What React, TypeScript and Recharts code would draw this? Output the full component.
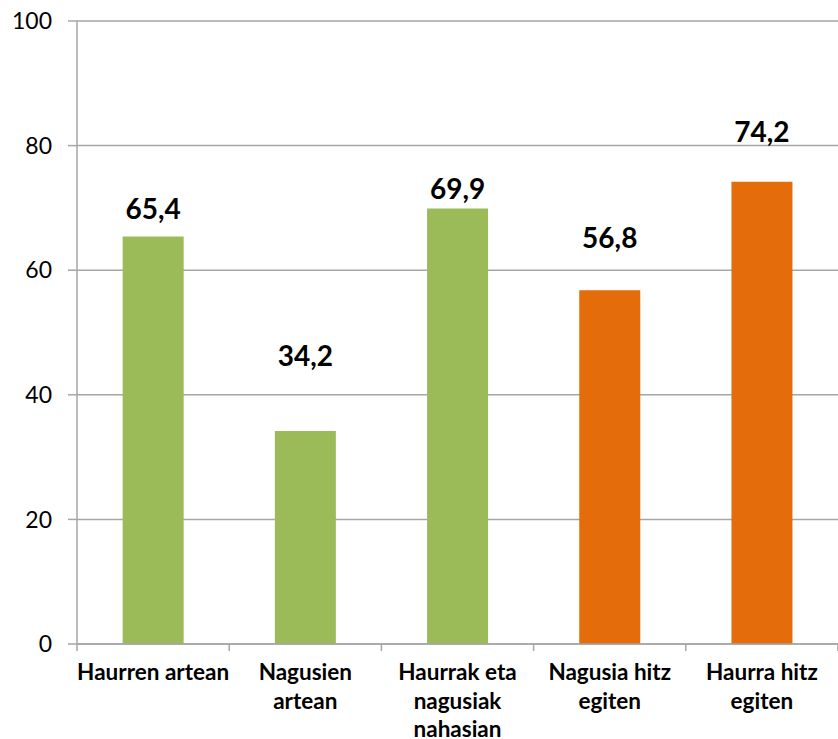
import { BarChart, Bar, XAxis, YAxis, CartesianGrid, Cell, LabelList } from 'recharts';

const categories = [
  'Haurren artean',
  'Nagusien artean',
  'Haurrak eta nagusiak nahasian',
  'Nagusia hitz egiten',
  'Haurra hitz egiten',
];
const tickLines = [
  ['Haurren artean'],
  ['Nagusien', 'artean'],
  ['Haurrak eta', 'nagusiak', 'nahasian'],
  ['Nagusia hitz', 'egiten'],
  ['Haurra hitz', 'egiten'],
];
const values = [65.4, 34.2, 69.9, 56.8, 74.2];
const groups = ['green', 'green', 'green', 'orange', 'orange'];
const yTicks = [0, 20, 40, 60, 80, 100];

const colors: Record<string, string> = { green: '#9bbb59', orange: '#e46c0a' };
// how far each value label sits above its bar, px
const labelLift = [18, 65, 10, 42, 40];

const font = 'Lato, "Open Sans", sans-serif';
const gray = '#a6a6a6';

const data = categories.map((name, i) => ({ name, value: values[i], group: groups[i] }));

// label lines plus the small marks between categories (Excel style)
function CategoryTick({ x, y, index, payload }: any) {
  const lines = tickLines[index] ?? [];
  const half = payload?.offset ?? 0;
  const last = index === tickLines.length - 1;
  return (
    <g>
      <line x1={x - half} y1={y} x2={x - half} y2={y + 7} stroke={gray} strokeWidth={1.5} />
      {last && <line x1={x + half} y1={y} x2={x + half} y2={y + 7} stroke={gray} strokeWidth={1.5} />}
      <text x={x} y={y} textAnchor="middle" fontFamily={font} fontWeight={700} fontSize={22.5} fill="#000">
        {lines.map((line, i) => (
          <tspan key={i} x={x} dy={i === 0 ? 36 : 28.5}>
            {line}
          </tspan>
        ))}
      </text>
    </g>
  );
}

function ValueLabel({ x, y, width, value, index }: any) {
  return (
    <text
      x={x + width / 2}
      y={y - labelLift[index]}
      textAnchor="middle"
      fontFamily={font}
      fontWeight={700}
      fontSize={28}
      fill="#000"
    >
      {String(value).replace('.', ',')}
    </text>
  );
}

export default function App() {
  return (
    <div style={{ position: 'absolute', left: 0, top: 0, background: '#fff' }}>
      <BarChart
        width={838}
        height={739}
        data={data}
        margin={{ top: 21, right: 0, left: 0, bottom: 0 }}
        barCategoryGap="30%"
      >
        <CartesianGrid vertical={false} stroke={gray} strokeWidth={1.5} />
        <XAxis
          dataKey="name"
          interval={0}
          height={95}
          tickSize={0}
          tickMargin={0}
          axisLine={{ stroke: gray, strokeWidth: 1.5 }}
          tickLine={false}
          tick={<CategoryTick />}
        />
        <YAxis
          width={77}
          domain={[0, 100]}
          ticks={yTicks}
          tickSize={9}
          tickMargin={16}
          axisLine={{ stroke: gray, strokeWidth: 1.5 }}
          tickLine={{ stroke: gray, strokeWidth: 1.5 }}
          tick={{ fontFamily: font, fontSize: 23, fill: '#000' }}
        />
        <Bar dataKey="value" isAnimationActive={false}>
          {data.map((d, i) => (
            <Cell key={i} fill={colors[d.group]} />
          ))}
          <LabelList dataKey="value" content={<ValueLabel />} />
        </Bar>
      </BarChart>
    </div>
  );
}
